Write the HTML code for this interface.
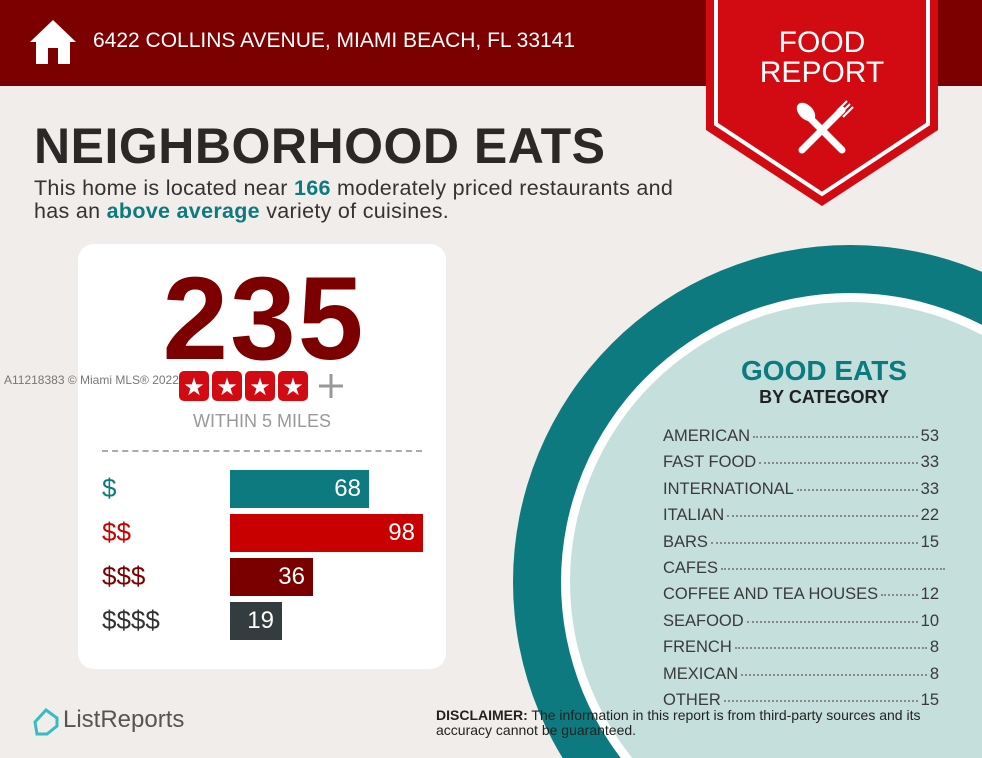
<!DOCTYPE html>
<html><head><meta charset="utf-8"><style>
html,body{margin:0;width:982px;height:758px;overflow:hidden}
body{background:#f1edea;font-family:"Liberation Sans",sans-serif;position:relative}
.a{position:absolute;white-space:nowrap}
.row{position:absolute;left:663px;width:276px;font-size:16.5px;color:#3a3a3a;display:flex;align-items:baseline}
.row .d{flex:1;border-bottom:2px dotted #888;margin:0 3px;height:0;transform:translateY(-3px)}
.bar{position:absolute;left:230px;height:38px;color:#fff;font-size:24px;text-align:right;box-sizing:border-box;padding-right:8px;line-height:38px}
.pl{position:absolute;left:102px;font-size:26px}
</style></head><body>
<div class="a" style="left:0;top:0;width:982px;height:86px;background:#7d0000"></div>
<svg class="a" style="left:28px;top:18px" width="50" height="46" viewBox="0 0 50 46"><path d="M25 2 L2 24 L8 24 L8 46 L20 46 L20 30 L30 30 L30 46 L42 46 L42 24 L48 24 Z" fill="#fff"/></svg>
<div class="a" style="left:93px;top:29px;color:#fff;font-size:21px">6422 COLLINS AVENUE, MIAMI BEACH, FL 33141</div>
<svg class="a" style="left:0;top:0" width="982" height="758">
<circle cx="850" cy="582" r="337" fill="#0c7a7e"/>
<circle cx="850" cy="582" r="289" fill="#fff"/>
<circle cx="850" cy="582" r="280" fill="#c5dfdd"/>
<polygon points="706,0 938,0 938,130 822,206 706,130" fill="#d20a11"/>
<polyline points="716,0 716,124 822,194 928,124 928,0" fill="none" stroke="#fff" stroke-width="4"/>
<g stroke="#fff" stroke-width="7" stroke-linecap="round"><line x1="802" y1="150" x2="842" y2="110"/><line x1="842" y1="150" x2="810" y2="118"/></g>
<ellipse cx="806" cy="112" rx="7" ry="11" fill="#fff" transform="rotate(-45 806 112)"/>
<g stroke="#fff" stroke-width="2"><line x1="840" y1="114" x2="850" y2="104"/><line x1="843" y1="117" x2="853" y2="107"/><line x1="837" y1="111" x2="847" y2="101"/></g>
</svg>
<div class="a" style="left:706px;width:232px;text-align:center;top:28px;color:#fff;font-size:30px;line-height:30px">FOOD<br>REPORT</div>
<div class="a" style="left:34px;top:117px;font-size:50px;font-weight:bold;color:#2b2828;letter-spacing:0.5px">NEIGHBORHOOD EATS</div>
<div class="a" style="left:34px;top:177px;font-size:21.5px;color:#333;line-height:23px;letter-spacing:0.3px">This home is located near <b style="color:#0c7a7e">166</b> moderately priced restaurants and<br>has an <b style="color:#0c7a7e">above average</b> variety of cuisines.</div>
<div class="a" style="left:78px;top:244px;width:368px;height:425px;background:#fff;border-radius:16px"></div>
<div class="a" style="left:80px;width:368px;text-align:center;top:254px;font-size:118px;font-weight:bold;color:#7d0000;letter-spacing:2px;line-height:130px">235</div>
<svg class="a" style="left:179px;top:371px" width="170" height="32">
<g fill="#d20a11"><rect x="0" y="0" width="30" height="30" rx="5"/><rect x="33" y="0" width="30" height="30" rx="5"/><rect x="66" y="0" width="30" height="30" rx="5"/><rect x="99" y="0" width="30" height="30" rx="5"/></g>
<g fill="#fff" font-size="24" font-family="DejaVu Sans" text-anchor="middle"><text x="15" y="24">★</text><text x="48" y="24">★</text><text x="81" y="24">★</text><text x="114" y="24">★</text></g>
<g stroke="#999" stroke-width="3"><line x1="140" y1="15" x2="164" y2="15"/><line x1="152" y1="3" x2="152" y2="27"/></g>
</svg>
<div class="a" style="left:4px;top:373px;font-size:12px;color:#777">A11218383 © Miami MLS® 2022</div>
<div class="a" style="left:78px;width:368px;text-align:center;top:411px;font-size:18px;color:#999">WITHIN 5 MILES</div>
<div class="a" style="left:102px;top:450px;width:320px;border-top:2px dashed #aaa"></div>
<div class="pl" style="top:473px;color:#0c7a7e">$</div>
<div class="pl" style="top:517px;color:#c00">$$</div>
<div class="pl" style="top:561px;color:#7d0000">$$$</div>
<div class="pl" style="top:605px;color:#333">$$$$</div>
<div class="bar" style="top:470px;width:139px;background:#0c7a7e">68</div>
<div class="bar" style="top:514px;width:193px;background:#c80000">98</div>
<div class="bar" style="top:558px;width:83px;background:#7a0000">36</div>
<div class="bar" style="top:602px;width:52px;background:#333c3e">19</div>
<svg class="a" style="left:33px;top:708px" width="26" height="28"><path d="M13 2 L24 10 L24 18 L14 26 L4 26 L2 14 Z" fill="none" stroke="#37bcc4" stroke-width="3"/></svg>
<div class="a" style="left:63px;top:706px;font-size:24px;color:#555">ListReports</div>
<div class="a" style="top:355px;font-size:28px;font-weight:bold;color:#0c7a7e;left:689px;width:270px;text-align:center">GOOD EATS</div>
<div class="a" style="top:387px;font-size:18px;font-weight:bold;color:#222;left:689px;width:270px;text-align:center">BY CATEGORY</div>
<div class="row" style="top:427px">AMERICAN<span class="d"></span>53</div>
<div class="row" style="top:453px">FAST FOOD<span class="d"></span>33</div>
<div class="row" style="top:480px">INTERNATIONAL<span class="d"></span>33</div>
<div class="row" style="top:506px">ITALIAN<span class="d"></span>22</div>
<div class="row" style="top:533px">BARS<span class="d"></span>15</div>
<div class="row" style="top:559px;width:282px">CAFES<span class="d" style="margin-right:0"></span></div>
<div class="row" style="top:585px">COFFEE AND TEA HOUSES<span class="d"></span>12</div>
<div class="row" style="top:612px">SEAFOOD<span class="d"></span>10</div>
<div class="row" style="top:638px">FRENCH<span class="d"></span>8</div>
<div class="row" style="top:665px">MEXICAN<span class="d"></span>8</div>
<div class="row" style="top:691px">OTHER<span class="d"></span>15</div>
<div class="a" style="left:436px;top:708px;font-size:14px;color:#222;line-height:15px"><b>DISCLAIMER:</b> The information in this report is from third-party sources and its<br>accuracy cannot be guaranteed.</div>
</body></html>
